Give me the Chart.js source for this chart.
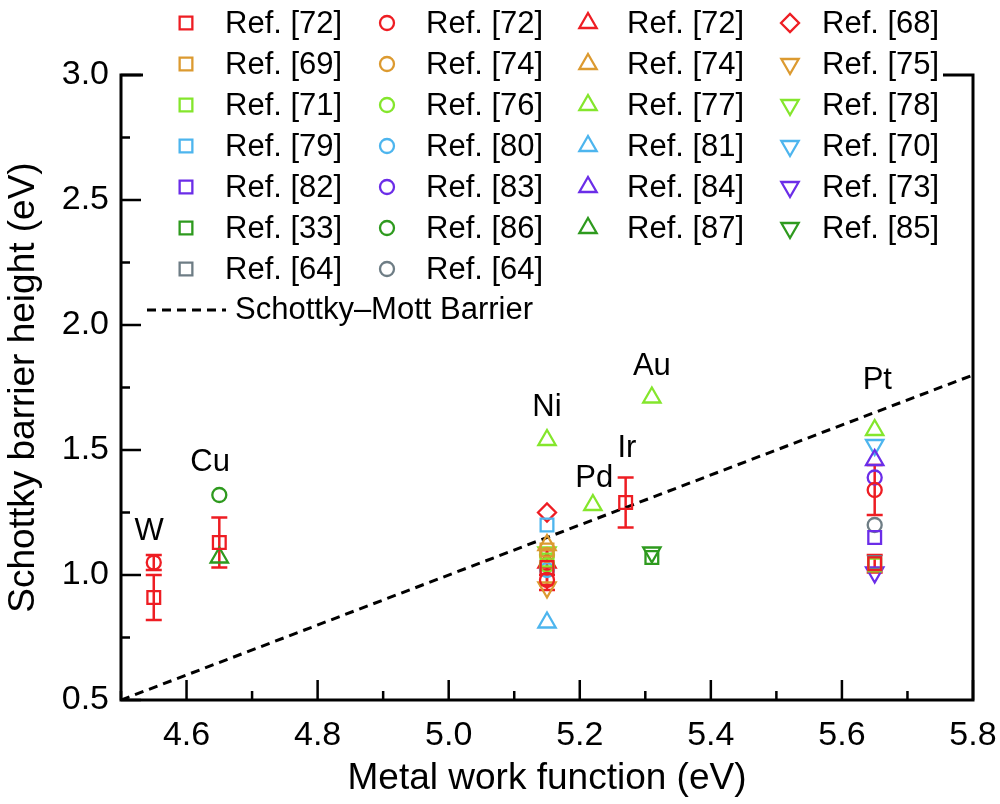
<!DOCTYPE html>
<html>
<head>
<meta charset="utf-8">
<script src="https://cdn.jsdelivr.net/npm/chart.js@4.4.1/dist/chart.umd.min.js"></script>
<style>
  html, body { margin: 0; padding: 0; background: #fff; }
</style>
</head>
<body>
<canvas id="chart" width="1000" height="804"></canvas>
<script>
(function(){
    // axis ticks
    const xTicks = [4.6, 4.8, 5.0, 5.2, 5.4, 5.6, 5.8];
    const xMinor = [4.5, 4.7, 4.9, 5.1, 5.3, 5.5, 5.7];
    const yTicks = [0.5, 1.0, 1.5, 2.0, 2.5, 3.0];
    const yMinor = [0.75, 1.25, 1.75, 2.25, 2.75];

    // measured points: [work function, barrier height, error]
    const sq72 = [[4.55, 0.91, 0.09], [4.65, 1.13, 0.10], [5.15, 1.03, 0.07], [5.27, 1.29, 0.10], [5.65, 1.045, 0.035]];
    const sq69 = [[5.15, 1.10, 0]];
    const sq71 = [[5.15, 1.06, 0], [5.65, 1.04, 0]];
    const sq79 = [[5.15, 1.20, 0]];
    const sq82 = [[5.65, 1.15, 0]];
    const sq33 = [[5.31, 1.07, 0]];
    const sq64 = [[5.65, 1.05, 0]];

    const ci72 = [[4.55, 1.05, 0.03], [5.15, 0.98, 0.04], [5.65, 1.34, 0.10]];
    const ci74 = [[5.15, 1.08, 0]];
    const ci76 = [[5.15, 1.04, 0]];
    const ci80 = [[5.15, 1.02, 0]];
    const ci83 = [[5.65, 1.39, 0]];
    const ci86 = [[4.65, 1.32, 0]];
    const ci64 = [[5.65, 1.20, 0]];

    const tr72 = [[5.15, 1.05, 0.05]];
    const tr74 = [[5.15, 1.12, 0]];
    const tr77 = [[5.15, 1.54, 0], [5.22, 1.28, 0], [5.31, 1.71, 0], [5.65, 1.58, 0]];
    const tr81 = [[5.15, 0.81, 0]];
    const tr84 = [[5.65, 1.46, 0]];
    const tr87 = [[4.65, 1.07, 0]];

    const di68 = [[5.15, 1.25, 0]];
    const dt75 = [[5.15, 0.95, 0]];
    const dt78 = [[5.15, 1.09, 0]];
    const dt70 = [[5.65, 1.52, 0]];
    const dt73 = [[5.65, 1.01, 0]];
    const dt85 = [[5.31, 1.09, 0]];

    // Schottky-Mott limit
    const smX = [4.5, 5.8];
    const smY = [0.5, 1.8];

    // metal labels
    const metalNames = ['W', 'Cu', 'Ni', 'Pd', 'Ir', 'Au', 'Pt'];
    const metalX = [4.543, 4.636, 5.15, 5.222, 5.272, 5.31, 5.654];
    const metalY = [1.176, 1.452, 1.672, 1.388, 1.508, 1.836, 1.78];

    const RED = '#EE1D23', ORANGE = '#DC9A30', LIME = '#84E62C', BLUE = '#4DB5EE',
          PURPLE = '#6B2DE8', GREEN = '#2E9A1E', GRAY = '#6E7D85';

    const FONT = '"Liberation Sans", Arial, Helvetica, sans-serif';

    // legend columns, top to bottom
    const columns = [
        [['Ref. [72]', sq72, RED], ['Ref. [69]', sq69, ORANGE], ['Ref. [71]', sq71, LIME], ['Ref. [79]', sq79, BLUE],
         ['Ref. [82]', sq82, PURPLE], ['Ref. [33]', sq33, GREEN], ['Ref. [64]', sq64, GRAY]],
        [['Ref. [72]', ci72, RED], ['Ref. [74]', ci74, ORANGE], ['Ref. [76]', ci76, LIME], ['Ref. [80]', ci80, BLUE],
         ['Ref. [83]', ci83, PURPLE], ['Ref. [86]', ci86, GREEN], ['Ref. [64]', ci64, GRAY]],
        [['Ref. [72]', tr72, RED], ['Ref. [74]', tr74, ORANGE], ['Ref. [77]', tr77, LIME], ['Ref. [81]', tr81, BLUE],
         ['Ref. [84]', tr84, PURPLE], ['Ref. [87]', tr87, GREEN]],
        [['Ref. [68]', di68, RED], ['Ref. [75]', dt75, ORANGE], ['Ref. [78]', dt78, LIME], ['Ref. [70]', dt70, BLUE],
         ['Ref. [73]', dt73, PURPLE], ['Ref. [85]', dt85, GREEN]]
    ];

    function markerFor(col, row) {
        if (col === 0) return { pointStyle: 'rect', radius: 9, rotation: 0 };
        if (col === 1) return { pointStyle: 'circle', radius: 7, rotation: 0 };
        if (col === 2) return { pointStyle: 'triangle', radius: 10, rotation: 0 };
        if (row === 0) return { pointStyle: 'rectRot', radius: 9, rotation: 0 };
        return { pointStyle: 'triangle', radius: 10, rotation: 180 };
    }

    const datasets = [];
    columns.forEach((list, col) => {
        list.forEach((item, row) => {
            const m = markerFor(col, row);
            datasets.push({
                label: item[0],
                data: item[1].map(p => ({ x: p[0], y: p[1] })),
                errors: item[1].map(p => p[2]),
                legendCol: col,
                legendRow: row,
                borderColor: item[2],
                backgroundColor: 'rgba(0,0,0,0)',
                pointStyle: m.pointStyle,
                pointRadius: m.radius,
                pointHoverRadius: m.radius,
                pointRotation: m.rotation,
                pointBorderWidth: 2.3,
                showLine: false
            });
        });
    });

    datasets.push({
        label: 'Schottky\u2013Mott Barrier',
        type: 'line',
        data: smX.map((v, i) => ({ x: v, y: smY[i] })),
        borderColor: '#000',
        borderWidth: 3,
        borderDash: [9, 6],
        pointRadius: 0,
        fill: false,
        isLimit: true
    });

    function drawMarker(ctx, opt, x, y) {
        if (Chart.helpers && Chart.helpers.drawPoint) {
            Chart.helpers.drawPoint(ctx, opt, x, y);
            return;
        }
        ctx.beginPath();
        ctx.arc(x, y, opt.radius, 0, Math.PI * 2);
        ctx.stroke();
    }

    // frame with inward ticks
    const framePlugin = {
        id: 'frame',
        beforeDatasetsDraw(chart) {
            const { ctx, chartArea: a, scales } = chart;
            const xs = scales.x, ys = scales.y;
            ctx.save();
            ctx.strokeStyle = '#000';
            ctx.lineWidth = 3;
            ctx.strokeRect(a.left, a.top, a.right - a.left, a.bottom - a.top);
            ctx.lineWidth = 2.5;
            ctx.beginPath();
            xTicks.forEach(v => { const p = xs.getPixelForValue(v); ctx.moveTo(p, a.bottom); ctx.lineTo(p, a.bottom - 20); });
            xMinor.forEach(v => { const p = xs.getPixelForValue(v); ctx.moveTo(p, a.bottom); ctx.lineTo(p, a.bottom - 9); });
            yTicks.forEach(v => { const p = ys.getPixelForValue(v); ctx.moveTo(a.left, p); ctx.lineTo(a.left + 20, p); });
            yMinor.forEach(v => { const p = ys.getPixelForValue(v); ctx.moveTo(a.left, p); ctx.lineTo(a.left + 9, p); });
            ctx.stroke();

            // error bars
            chart.data.datasets.forEach(ds => {
                if (!ds.errors) return;
                ctx.strokeStyle = ds.borderColor;
                ctx.lineWidth = 2.5;
                ds.data.forEach((pt, i) => {
                    const e = ds.errors[i];
                    if (!e) return;
                    const px = xs.getPixelForValue(pt.x);
                    const top = ys.getPixelForValue(pt.y + e);
                    const bot = ys.getPixelForValue(pt.y - e);
                    ctx.beginPath();
                    ctx.moveTo(px, top); ctx.lineTo(px, bot);
                    ctx.moveTo(px - 8, top); ctx.lineTo(px + 8, top);
                    ctx.moveTo(px - 8, bot); ctx.lineTo(px + 8, bot);
                    ctx.stroke();
                });
            });
            ctx.restore();
        },
        afterDatasetsDraw(chart) {
            const { ctx, scales } = chart;
            ctx.save();
            ctx.fillStyle = '#000';
            ctx.font = '31px ' + FONT;
            ctx.textAlign = 'center';
            ctx.textBaseline = 'middle';
            metalNames.forEach((n, i) => {
                ctx.fillText(n, scales.x.getPixelForValue(metalX[i]), scales.y.getPixelForValue(metalY[i]));
            });
            ctx.restore();
        },
        afterDraw(chart) {
            const ctx = chart.ctx;
            ctx.save();
            ctx.fillStyle = '#fff';
            ctx.fillRect(143, 0, 800, 330);
            const colX = [186, 387, 588, 790];
            const textX = [225, 426, 627, 822];
            ctx.font = '31px ' + FONT;
            ctx.textAlign = 'left';
            ctx.textBaseline = 'middle';
            chart.data.datasets.forEach(ds => {
                if (ds.isLimit) {
                    const yy = 23 + 7 * 41;
                    ctx.strokeStyle = ds.borderColor;
                    ctx.lineWidth = 3;
                    ctx.setLineDash(ds.borderDash);
                    ctx.beginPath();
                    ctx.moveTo(147, yy); ctx.lineTo(226, yy);
                    ctx.stroke();
                    ctx.setLineDash([]);
                    ctx.fillStyle = '#000';
                    ctx.fillText(ds.label, 235, yy);
                    return;
                }
                const yy = 23 + ds.legendRow * 41;
                ctx.strokeStyle = ds.borderColor;
                ctx.fillStyle = 'rgba(0,0,0,0)';
                ctx.lineWidth = 2.3;
                drawMarker(ctx, { pointStyle: ds.pointStyle, radius: ds.pointRadius, rotation: ds.pointRotation, borderWidth: 2.3 },
                           colX[ds.legendCol], yy);
                ctx.fillStyle = '#000';
                ctx.fillText(ds.label, textX[ds.legendCol], yy + 1);
            });
            ctx.restore();
        }
    };

    new Chart(document.getElementById('chart'), {
        type: 'scatter',
        data: { datasets },
        options: {
            responsive: false,
            animation: false,
            devicePixelRatio: 1,
            layout: { padding: { left: 0, top: 75, right: 27, bottom: 0 } },
            plugins: { legend: { display: false }, tooltip: { enabled: false } },
            scales: {
                x: {
                    type: 'linear',
                    min: 4.5, max: 5.8,
                    afterBuildTicks: s => { s.ticks = xTicks.map(v => ({ value: v })); },
                    afterFit: s => { s.height = 104; s.paddingRight = 0; s.paddingLeft = 0; },
                    grid: { display: false, drawTicks: false },
                    border: { display: false },
                    ticks: {
                        callback: v => Number(v).toFixed(1),
                        color: '#000', padding: 15, maxRotation: 0, autoSkip: false,
                        font: { family: FONT, size: 34 }
                    },
                    title: {
                        display: true, text: 'Metal work function (eV)', color: '#000',
                        font: { family: FONT, size: 37 }, padding: { top: 0, bottom: 3 }
                    }
                },
                y: {
                    type: 'linear',
                    min: 0.5, max: 3.0,
                    afterBuildTicks: s => { s.ticks = yTicks.map(v => ({ value: v })); },
                    afterFit: s => { s.width = 121; s.paddingTop = 0; s.paddingBottom = 0; },
                    grid: { display: false, drawTicks: false },
                    border: { display: false },
                    ticks: {
                        callback: v => Number(v).toFixed(1),
                        color: '#000', padding: 12, autoSkip: false,
                        font: { family: FONT, size: 34 }
                    },
                    title: {
                        display: true, text: 'Schottky barrier height (eV)', color: '#000',
                        font: { family: FONT, size: 37 }, padding: { top: 2, bottom: 0 }
                    }
                }
            }
        },
        plugins: [framePlugin]
    });
})();
</script>
</body>
</html>
